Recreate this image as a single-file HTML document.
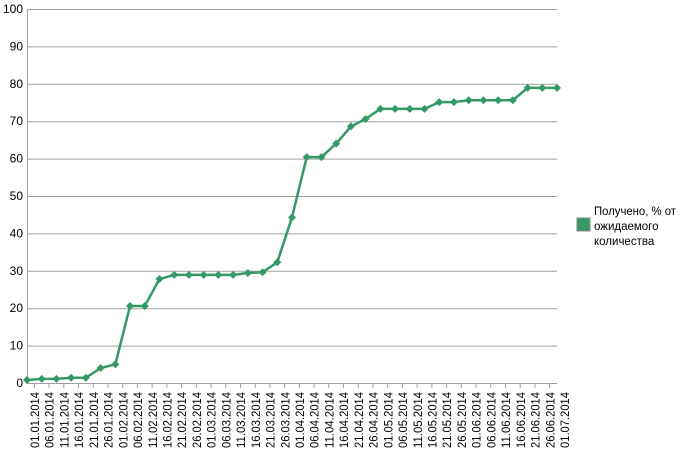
<!DOCTYPE html>
<html><head><meta charset="utf-8"><style>
html,body{margin:0;padding:0;background:#fff;}
svg{display:block;font-family:"Liberation Sans",sans-serif;}
</style></head><body>
<svg width="680" height="451" viewBox="0 0 680 451" xmlns="http://www.w3.org/2000/svg">
<g id="grid" stroke="#a0a0a0" stroke-width="1"></g>
<g id="yl" font-size="12" fill="#000" text-anchor="end"></g>
<g id="xl" font-size="11.5" fill="#000"></g>
<polyline id="ln" fill="none" stroke="#339966" stroke-width="2.5" stroke-linejoin="round"/>
<g id="mk" fill="#339966"></g>
<rect x="577" y="218" width="13" height="13" fill="#339966" stroke="#888" stroke-width="1"/>
<text x="594" y="215" font-size="11.5" textLength="82" lengthAdjust="spacingAndGlyphs">Получено, % от</text>
<text x="594" y="230" font-size="11.5">ожидаемого</text>
<text x="594" y="245" font-size="11.5">количества</text>
</svg>
<script>
var ns="http://www.w3.org/2000/svg";
function el(t,a,p,txt){var e=document.createElementNS(ns,t);for(var k in a)e.setAttribute(k,a[k]);if(txt)e.textContent=txt;document.getElementById(p).appendChild(e);}
var x0=27,dx=(557-27)/36,y0=383,ky=3.74;
for(var i=0;i<=10;i++){var y=y0-i*10*ky;el('line',{x1:x0,x2:557,y1:y+0.5,y2:y+0.5},'grid');el('text',{x:23,y:y+4},'yl',String(i*10));}
el('line',{x1:x0+0.5,x2:x0+0.5,y1:9,y2:384},'grid');
for(var i=0;i<36;i++){el('line',{x1:x0+i*dx+dx/2,x2:x0+i*dx+dx/2,y1:383,y2:388},'grid');}
var labs=["01.01","06.01","11.01","16.01","21.01","26.01","01.02","06.02","11.02","16.02","21.02","26.02","01.03","06.03","11.03","16.03","21.03","26.03","01.04","06.04","11.04","16.04","21.04","26.04","01.05","06.05","11.05","16.05","21.05","26.05","01.06","06.06","11.06","16.06","21.06","26.06","01.07"];
var d=[0.8,1.1,1.1,1.4,1.4,4,5,20.6,20.6,27.8,28.9,28.9,28.9,28.9,28.9,29.4,29.6,32.3,44.3,60.4,60.4,64,68.6,70.6,73.3,73.3,73.3,73.3,75.1,75.1,75.6,75.6,75.6,75.6,78.9,78.9,78.9];
var pts=[];
for(var i=0;i<37;i++){var x=x0+i*dx,y=y0-d[i]*ky;pts.push(x+','+y);
el('polygon',{points:(x)+','+(y-4)+' '+(x+4)+','+y+' '+x+','+(y+4)+' '+(x-4)+','+y},'mk');
var lx=x+12;el('text',{x:0,y:0,transform:'translate('+lx+',392) rotate(-90)','text-anchor':'end',textLength:'56',lengthAdjust:'spacingAndGlyphs'},'xl',labs[i]+'.2014');}
document.getElementById('ln').setAttribute('points',pts.join(' '));
</script>
</body></html>
